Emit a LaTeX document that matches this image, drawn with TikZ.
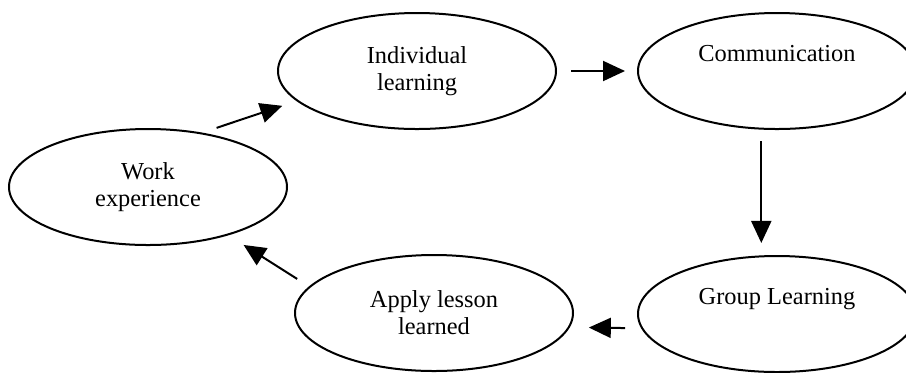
\documentclass[tikz,border=0pt]{standalone}
\usepackage{fontspec}
\setmainfont{Liberation Serif}
\usetikzlibrary{shapes.geometric,arrows.meta}
\begin{document}
\begin{tikzpicture}[>={Triangle[length=11pt,width=10pt]},x=0.5pt,y=-0.5pt,
stage/.style={draw,ellipse,line width=1pt,minimum width=139pt,minimum height=58pt,inner sep=0pt,align=center,font=\fontsize{12.2}{13.5}\selectfont},
flow/.style={->,line width=1pt}]
\useasboundingbox (0,0) rectangle (906,372);
% Cac buoc (elip)
\node[stage] (work) at (148,187) {Work\\experience};
\node[stage] (ind) at (417,71) {Individual\\learning};
\node[stage] (comm) at (777,71) {Communication\\\strut};
\node[stage] (grp) at (777,314) {Group Learning\\\strut};
\node[stage] (apply) at (434,313) {Apply lesson\\learned};
% Mui ten noi cac buoc
\draw[flow,shorten <=7.5pt,shorten >=7.5pt] (work.45)--(ind.194);
\draw[flow,shorten <=7pt,shorten >=6pt] (ind.east)--(comm.west);
\draw[flow,shorten <=5.7pt,shorten >=6.2pt] (comm.255)--(grp.105);
\draw[flow,shorten <=8pt,shorten >=9.5pt] (grp.186)--(apply.354);
\draw[flow,shorten <=7pt,shorten >=9pt] (apply.168)--(work.329);
\end{tikzpicture}
\end{document}
